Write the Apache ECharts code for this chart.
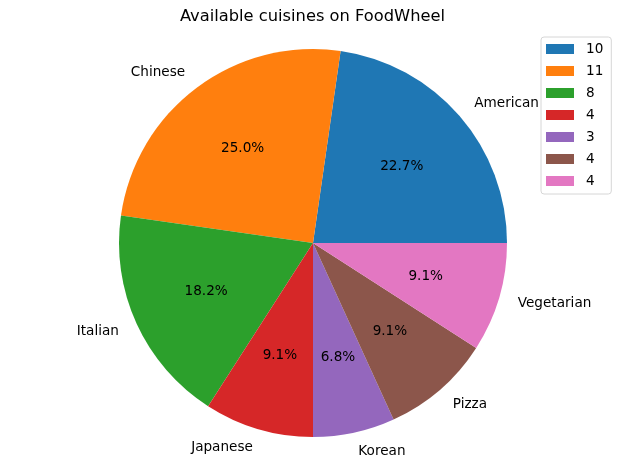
<!DOCTYPE html>
<html>
<head>
<meta charset="utf-8">
<script src="https://cdn.jsdelivr.net/npm/echarts@6/dist/echarts.min.js"></script>
<style>
  html, body { margin: 0; padding: 0; background: #fff; }
  #chart { width: 625px; height: 469px; }
</style>
</head>
<body>
<div id="chart"></div>
<script>
// 菜系及数量
const cuisines = ['American', 'Chinese', 'Italian', 'Japanese', 'Korean', 'Pizza', 'Vegetarian']
const counts = [10, 11, 8, 4, 3, 4, 4]
const colors = ['#1f77b4', '#ff7f0e', '#2ca02c', '#d62728', '#9467bd', '#8c564b', '#e377c2']

const pieData = cuisines.map((name, i) => ({ name: name, value: counts[i] }))
const font = 'DejaVu Sans'
const R = 194

let myChart = echarts.init(document.getElementById('chart'))

let options = {
  color: colors,
  animation: false,
  title: {
    text: 'Available cuisines on FoodWheel',
    left: 'center',
    top: 4,
    textStyle: { fontFamily: font, fontSize: 16.3, fontWeight: 'normal', color: '#000' }
  },
  legend: {
    orient: 'vertical',
    left: 541,
    top: 37,
    data: cuisines,
    icon: 'rect',
    itemWidth: 28,
    itemHeight: 10,
    itemGap: 8,
    padding: [5, 8, 6, 5],
    borderColor: '#d6d6d6',
    borderWidth: 1,
    borderRadius: 3,
    formatter: name => String(counts[cuisines.indexOf(name)]),
    textStyle: { fontFamily: font, fontSize: 13.6, color: '#000', padding: [0, 0, 0, 7] }
  },
  series: [
    {
      // 扇区 + 外侧名称
      type: 'pie',
      center: [313, 243],
      radius: [0, R],
      startAngle: 0,
      clockwise: false,
      avoidLabelOverlap: false,
      emphasis: { disabled: true },
      data: pieData,
      label: {
        show: true,
        position: 'outside',
        distanceToLabelLine: 0,
        fontFamily: font,
        fontSize: 13.6,
        color: '#000',
        padding: [3, 0, 0, 0],
        formatter: '{b}'
      },
      labelLine: { show: false, length: R * 0.1, length2: 0 }
    },
    {
      // 内侧百分比
      type: 'pie',
      center: [313, 243],
      radius: [R * 0.18, R],
      startAngle: 0,
      clockwise: false,
      silent: true,
      avoidLabelOverlap: false,
      itemStyle: { color: 'rgba(0,0,0,0)' },
      data: pieData,
      label: {
        show: true,
        position: 'inside',
        fontFamily: font,
        fontSize: 13.6,
        color: '#000',
        padding: [3, 0, 0, 0],
        formatter: p => p.percent.toFixed(1) + '%'
      },
      labelLine: { show: false }
    }
  ]
}
myChart.setOption(options)
</script>
</body>
</html>
